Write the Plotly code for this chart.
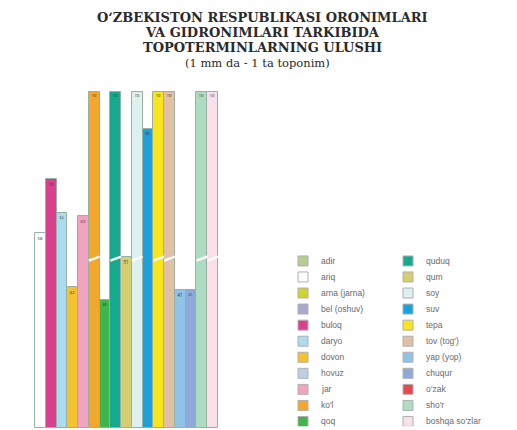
import plotly.graph_objects as go

# ---- data ----
bar_names = ["ariq", "buloq", "daryo", "dovon", "jar", "ko'l", "qoq", "quduq", "qum",
             "soy", "suv", "tepa", "tov (tog')", "yap (yop)", "chuqur", "sho'r", "boshqa so'zlar"]
# drawn heights (mm, 0-100 scale of the frame); broken bars reach the top
bar_values = [58, 74, 64, 42, 63, 100, 38, 100, 51, 100, 89, 100, 100, 41, 41, 100, 100]
bar_broken = [False, False, False, False, False, True, False, True, False,
              True, False, True, True, False, False, True, True]
bar_colors = ["#fbfdfd", "#d9418f", "#a9dcef", "#f4c22e", "#f2a3c2", "#f6a62a", "#3fb54c",
              "#16a98f", "#d5cf72", "#dcf1f0", "#1ba1dc", "#f9e51a", "#e1c0a6", "#8fc3e8",
              "#8eaad9", "#aedcc0", "#f8dfe9"]

legend_col1 = ["adir", "ariq", "arna (jarna)", "bel (oshuv)", "buloq", "daryo", "dovon",
               "hovuz", "jar", "ko'l", "qoq"]
legend_col1_colors = ["#b5cf8c", "#fbfdfd", "#d2d230", "#a9a9cf", "#d9418f", "#a9dcef",
                      "#f4c22e", "#bccfe6", "#f2a3c2", "#f6a62a", "#3fb54c"]
legend_col2 = ["quduq", "qum", "soy", "suv", "tepa", "tov (tog')", "yap (yop)", "chuqur",
               "o\u2018zak", "sho'r", "boshqa so\u2018zlar"]
legend_col2_colors = ["#16a98f", "#d5cf72", "#dcf1f0", "#1ba1dc", "#f9e51a", "#e1c0a6",
                      "#8fc3e8", "#8eaad9", "#e8484c", "#aedcc0", "#f8dfe9"]

title_lines = ["O\u2018ZBEKISTON RESPUBLIKASI ORONIMLARI", "VA GIDRONIMLARI TARKIBIDA",
               "TOPOTERMINLARNING ULUSHI"]
subtitle = "(1 mm da - 1 ta toponim)"
break_level = 50.3

# page has an 8px body margin; lay out in window pixels and convert
OFF = 8
W, H = 517 - OFF, 430 - OFF


def px_x(x):
    return (x - OFF) / W


def px_y(y):
    return 1 - (y - OFF) / H


fig = go.Figure()

n = len(bar_names)
xs = list(range(n))
fig.add_trace(go.Bar(
    x=xs, y=bar_values, width=1.0,
    marker=dict(color=bar_colors, line=dict(color="#96b2a3", width=1)),
    text=[str(v) for v in bar_values], textposition="inside", insidetextanchor="end",
    textfont=dict(size=5, color="#333333"), textangle=0,
    hoverinfo="skip", showlegend=False, xaxis="x", yaxis="y"))

# break marks on the tall bars
bx, by = [], []
for i, b in enumerate(bar_broken):
    if b:
        bx += [i - 0.5, i + 0.5, None]
        by += [break_level - 0.5, break_level + 0.7, None]
fig.add_trace(go.Scatter(x=bx, y=by, mode="lines", line=dict(color="white", width=2.5),
                         hoverinfo="skip", showlegend=False, xaxis="x", yaxis="y"))

# legend drawn as a small grid
col_marker_px = [303, 408]
for col, (names, cols) in enumerate([(legend_col1, legend_col1_colors),
                                     (legend_col2, legend_col2_colors)]):
    mx = px_x(col_marker_px[col])
    fig.add_trace(go.Scatter(
        x=[mx] * len(names), y=list(range(len(names))), mode="markers",
        marker=dict(symbol="square", size=10, color=cols, line=dict(color="#b0b0b0", width=1)),
        hoverinfo="skip", showlegend=False, xaxis="x2", yaxis="y2"))
    for r, nm in enumerate(names):
        fig.add_annotation(x=px_x(col_marker_px[col] + 16), y=r, xref="x2", yref="y2", text=nm,
                           showarrow=False, xanchor="left", yanchor="middle",
                           font=dict(family="Liberation Sans, Arial", size=8.5, color="#6a6a6a"))

# titles
title_centers = [17.5, 32.5, 47.3]
for k, t in enumerate(title_lines):
    fig.add_annotation(x=px_x(262), y=px_y(title_centers[k]), xref="paper", yref="paper", text=t,
                       showarrow=False, xanchor="center", yanchor="middle",
                       font=dict(family="DejaVu Serif, serif", size=13, color="#2a2a2a",
                                 weight="bold"))
fig.add_annotation(x=px_x(257), y=px_y(62.5), xref="paper", yref="paper", text=subtitle,
                   showarrow=False, xanchor="center", yanchor="middle",
                   font=dict(family="DejaVu Serif, serif", size=11.5, color="#2a2a2a"))

# bar area: bars span window px 35..218; pad the plot area so edge outlines are not clipped
bw = (218 - 35) / n
pad = 3
fig.update_layout(
    width=W, height=H, margin=dict(l=0, r=0, t=0, b=0),
    paper_bgcolor="white", plot_bgcolor="rgba(0,0,0,0)", bargap=0,
    xaxis=dict(domain=[px_x(35 - pad), px_x(218 + pad)],
               range=[-0.5 - pad / bw, n - 0.5 + pad / bw], visible=False),
    yaxis=dict(domain=[px_y(428), px_y(92 - pad)], range=[0, 100 + pad * 100 / 336],
               visible=False),
    xaxis2=dict(domain=[0, 1], range=[0, 1], visible=False),
    yaxis2=dict(domain=[px_y(426.3), px_y(252.9)], range=[10.3, -0.5], visible=False),
)

fig.write_html("out.html")
